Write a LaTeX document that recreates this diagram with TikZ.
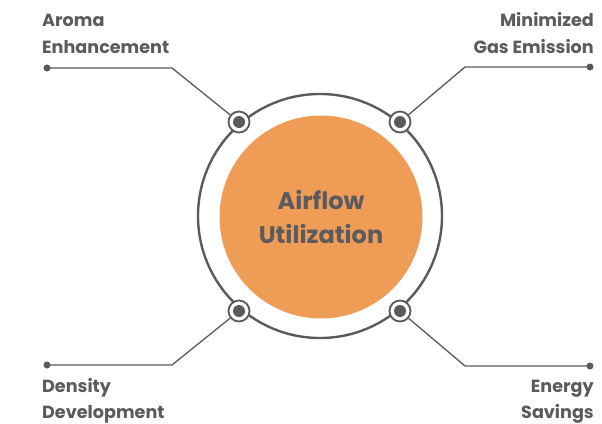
\documentclass[tikz,border=0pt]{standalone}
\usepackage{fontspec}
\setmainfont{Poppins}
\definecolor{txtgray}{HTML}{5B5B5D}
\definecolor{linegray}{HTML}{5A5A5C}
\definecolor{orng}{HTML}{EE9C56}
\begin{document}
\begin{tikzpicture}[x=1pt,y=-1pt,
  ring/.style={draw=linegray,line width=2.4pt},
  conn/.style={draw=linegray,line width=1.3pt},
  knob/.style={circle,draw=linegray,fill=white,line width=1.8pt,minimum size=21pt,inner sep=0pt},
  knobdot/.style={circle,fill=linegray,minimum size=12pt,inner sep=0pt},
  enddot/.style={circle,fill=linegray,minimum size=7pt,inner sep=0pt},
  lbl/.style={text=txtgray,font=\fontsize{17.6}{26}\selectfont\bfseries,inner sep=0pt},
  ctr/.style={text=txtgray,font=\fontsize{24}{34}\selectfont\bfseries,align=center}]
\path[use as bounding box,fill=white] (0,0) rectangle (602,423);
% ring and core
\draw[ring] (320,216) circle (122);
\node[circle,fill=orng,minimum size=203pt,inner sep=0pt] (core) at (321,217) {};
\node[ctr] (title) at (321,217) {Airflow\\Utilization};
% knob positions
\coordinate (ktl) at (239,122);
\coordinate (ktr) at (400,122);
\coordinate (kbl) at (239,311);
\coordinate (kbr) at (400,311);
% bends
\coordinate (btl) at (172,68);
\coordinate (btr) at (465,67);
\coordinate (bbl) at (172,365);
\coordinate (bbr) at (465,366);
% end dots
\node[enddot] (dtl) at (47,68) {};
\node[enddot] (dtr) at (590,67) {};
\node[enddot] (dbl) at (47,365) {};
\node[enddot] (dbr) at (590,366) {};
% connectors
\draw[conn] (ktl) -- (btl) -- (dtl.center);
\draw[conn] (ktr) -- (btr) -- (dtr.center);
\draw[conn] (kbl) -- (bbl) -- (dbl.center);
\draw[conn] (kbr) -- (bbr) -- (dbr.center);
% knobs
\foreach \k in {ktl,ktr,kbl,kbr}{
  \node[knob] (\k o) at (\k) {};
  \node[knobdot] (\k i) at (\k) {};
}
% labels
\node[lbl,anchor=base west] (la) at (42,27) {Aroma};
\node[lbl,anchor=base west] (la2) at (42,53) {Enhancement};
\node[lbl,anchor=base east] (lb) at (594,27) {Minimized};
\node[lbl,anchor=base east] (lb2) at (594,53) {Gas Emission};
\node[lbl,anchor=base west] (lc) at (42,392) {Density};
\node[lbl,anchor=base west] (lc2) at (42,418) {Development};
\node[lbl,anchor=base east] (ld) at (594,392) {Energy};
\node[lbl,anchor=base east] (ld2) at (594,418) {Savings};
\end{tikzpicture}
\end{document}
